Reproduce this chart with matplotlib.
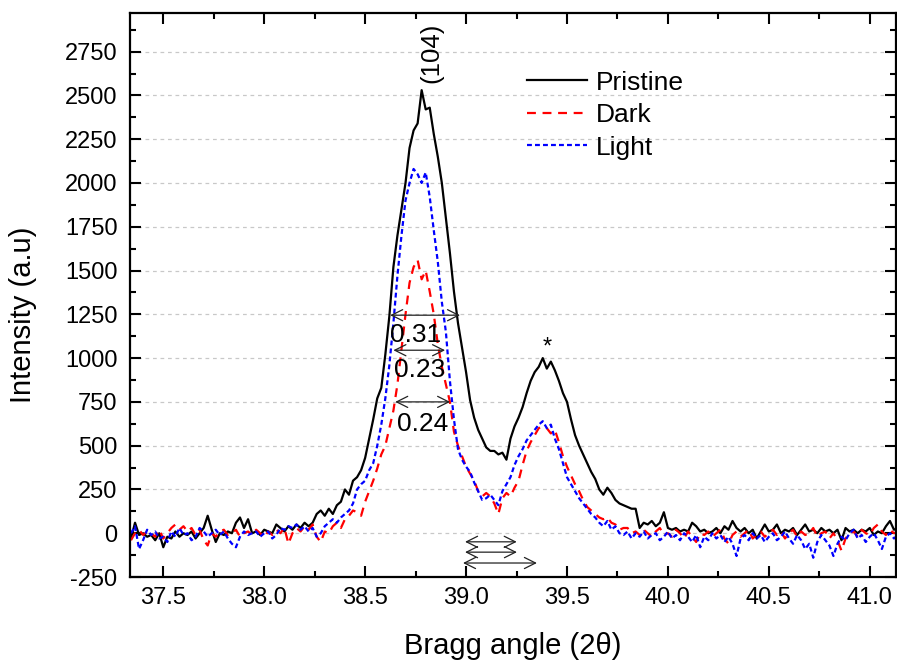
import numpy as np
import matplotlib
matplotlib.use('Agg')
import matplotlib.pyplot as plt
from matplotlib.ticker import MultipleLocator

plt.rcParams['font.family'] = ['Liberation Sans', 'DejaVu Sans']
plt.rcParams['axes.unicode_minus'] = False

# Bragg angle grid (2theta), 0.02 deg steps
two_theta = np.round(np.arange(37.34, 41.141, 0.02), 2)

# XRD intensities (a.u.), 10 points per row
pristine = [
    -30, 60, -10, 0, -20, -10, -40, 0, -80, -20,
    -30, 10, -20, 0, -10, 10, -30, 0, 30, 100,
    20, -50, 0, -10, 10, 0, 60, 90, 30, 80,
    0, 10, -10, 20, 10, 0, 50, 30, 10, 40,
    20, 50, 30, 60, 40, 60, 110, 130, 100, 140,
    110, 160, 180, 250, 220, 300, 320, 360, 430, 540,
    650, 770, 830, 1020, 1240, 1520, 1700, 1850, 2000, 2200,
    2300, 2340, 2530, 2420, 2430, 2280, 2150, 2000, 1800, 1600,
    1380, 1200, 1060, 920, 760, 660, 590, 540, 490, 470,
    470, 450, 460, 420, 540, 610, 660, 720, 800, 870,
    920, 950, 1000, 940, 980, 930, 870, 800, 750, 650,
    560, 500, 450, 400, 350, 310, 250, 220, 260, 230,
    190, 170, 160, 150, 140, 140, 30, 60, 50, 70,
    40, 60, 120, 30, 20, 30, 10, 20, 10, 60,
    40, 10, 20, 0, 10, 30, 0, 40, 20, 70,
    30, 10, 30, 0, 20, -30, 10, 50, 10, 20,
    50, 0, 20, 10, 30, -10, 20, 50, 10, 20,
    0, 30, 10, 20, 0, 20, -40, 30, 10, 20,
    0, 20, 10, 30, -10, 10, 0, 40, 70, 20,
    30,
]

dark = [
    -40, 0, 20, -10, 10, 0, -20, 20, -30, 0,
    30, 50, 20, 40, 10, 30, -10, 20, -40, -70,
    0, -20, 10, 20, -10, 0, 20, -20, 0, 10,
    -10, 20, 0, -20, 10, -10, 20, 0, 30, -60,
    0, 30, 10, 40, 20, 50, -20, -50, 10, 0,
    40, 60, 30, 80, 100, 130, 120, 100, 180, 240,
    300, 370, 450, 500, 600, 700, 850, 1050, 1250, 1430,
    1520, 1560, 1450, 1500, 1380, 1250, 1080, 950, 850, 750,
    580, 500, 440, 380, 340, 300, 240, 210, 230, 210,
    170, 110, 200, 230, 210, 260, 300, 390, 470, 520,
    560, 600, 610, 600, 570, 590, 520, 440, 380, 330,
    280, 240, 190, 150, 130, 110, 90, 80, 90, 60,
    50, 20, 30, 30, 0, 10, -10, 20, 0, -20,
    10, 30, -10, 0, -20, 20, 0, -30, 10, -20,
    -50, 0, -10, 10, -20, 0, 20, -30, -60, -10,
    10, -20, 0, 20, -30, -10, 10, -20, 0, 20,
    -10, 10, -30, 0, 20, -20, 10, -10, 0, 30,
    -20, 0, 10, -30, 0, -40, -100, -30, 0, 10,
    -20, 20, 0, -10, 30, 50, 10, -10, 20, 0,
    10,
]

light = [
    0, 40, -90, -40, 20, -10, 10, -30, -20, -50,
    10, -20, 30, -10, 0, -40, -20, 30, 10, -20,
    0, 20, -10, 10, -30, -60, -80, -20, 10, -10,
    0, 10, -20, 0, 10, -30, -10, 30, 20, 40,
    30, 50, 20, 40, 10, 30, -20, 0, 40, 60,
    80, 60, 90, 110, 130, 170, 250, 280, 300, 360,
    400, 500, 620, 770, 960, 1200, 1470, 1700, 1900, 2000,
    2080, 2050, 2000, 2060, 1920, 1730, 1550, 1320, 1150, 870,
    650, 480, 420, 380, 350, 290, 240, 190, 200, 220,
    190, 160, 240, 280, 320, 390, 440, 480, 530, 560,
    590, 620, 640, 600, 620, 540, 480, 400, 320, 280,
    240, 200, 170, 140, 110, 90, 60, 40, 70, 20,
    40, 0, -10, 10, -30, 0, -20, 10, -30, -10,
    0, -40, -20, 10, -30, -10, -40, 0, -20, -50,
    -10, -80, -20, -40, 0, -30, -10, -50, -20, -60,
    -130, -30, -10, -40, 0, -30, -10, -50, -20, 0,
    -40, -20, 10, -30, -60, -10, -40, -90, -60, -140,
    -50, -10, -40, -70, -130, -60, -20, -40, 0, 20,
    -30, -10, -50, -20, 0, -40, -90, -20, 0, -30,
    -10,
]

# FWHM arrows on the (104) peak: (x start, x end, height, label, label x, label y)
fwhm_arrows = [
    (38.624, 38.970, 1245, '0.31', 38.748, 1130),
    (38.640, 38.896, 1045, '0.23', 38.772, 930),
    (38.649, 38.921, 750, '0.24', 38.787, 625),
]
# leftover arrows below the baseline
extra_arrows = [
    (38.995, 39.251, -49),
    (38.995, 39.252, -108),
    (38.985, 39.351, -170),
]

fig = plt.figure(figsize=(8.97, 6.65), dpi=100)
ax = fig.add_axes([0.1449, 0.1323, 0.854, 0.848])

ax.plot(two_theta, pristine, color='black', lw=1.6, label='Pristine')
ax.plot(two_theta, dark, color='red', lw=1.6, ls=(0, (4, 3)), label='Dark')
ax.plot(two_theta, light, color='blue', lw=1.6, ls=(0, (2.2, 1.4)), label='Light')

for x0, x1, h, txt, tx, ty in fwhm_arrows:
    ax.annotate('', xy=(x0, h), xytext=(x1, h),
                arrowprops=dict(arrowstyle='<->', color='#222222', lw=0.9,
                                shrinkA=0, shrinkB=0, mutation_scale=20))
    ax.text(tx, ty, txt, fontsize=19, ha='center', va='center')

for x0, x1, h in extra_arrows:
    ax.annotate('', xy=(x0, h), xytext=(x1, h),
                arrowprops=dict(arrowstyle='<->', color='#222222', lw=0.9,
                                shrinkA=0, shrinkB=0, mutation_scale=20))

ax.text(38.83, 2570, '(104)', rotation=90, fontsize=18.5, ha='center', va='bottom')
ax.text(39.40, 1000, '*', fontsize=17, ha='center', va='bottom')

ax.set_xlim(37.335, 41.13)
ax.set_ylim(-250, 2970)
ax.xaxis.set_major_locator(MultipleLocator(0.5))
ax.xaxis.set_minor_locator(MultipleLocator(0.25))
ax.yaxis.set_major_locator(MultipleLocator(250))
ax.yaxis.set_minor_locator(MultipleLocator(125))
ax.xaxis.set_major_formatter(plt.FormatStrFormatter('%.1f'))

ax.tick_params(which='both', direction='in', top=True, right=True, width=1.5)
ax.tick_params(which='major', length=8)
ax.tick_params(which='minor', length=4)
ax.tick_params(axis='x', labelsize=17, pad=7)
ax.tick_params(axis='y', labelsize=17, pad=9)
for sp in ax.spines.values():
    sp.set_linewidth(1.6)

ax.grid(axis='y', which='major', color='#c8c8c8', ls=(0, (3, 3)), lw=0.9)

ax.set_xlabel('Bragg angle (2θ)', fontsize=21, labelpad=17)
ax.set_ylabel('Intensity (a.u)', fontsize=21)
ax.yaxis.set_label_coords(-0.121, 0.4645)

ax.legend(loc='upper left', bbox_to_anchor=(0.518, 0.898), frameon=False,
          fontsize=19, handlelength=2.27, handletextpad=0.34, labelspacing=0.32,
          borderpad=0, borderaxespad=0)

fig.savefig('out.png', dpi=100)
